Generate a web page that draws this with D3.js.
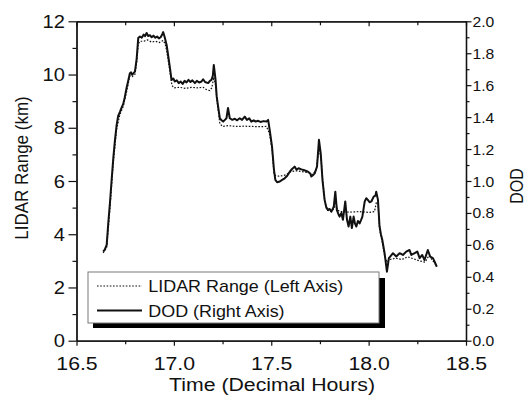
<!DOCTYPE html>
<html>
<head>
<meta charset="utf-8">
<script src="https://cdn.jsdelivr.net/npm/d3@7"></script>
<style>
  html, body { margin: 0; padding: 0; background: #fff; }
  svg { display: block; font-family: "Liberation Sans", Arial, sans-serif; }
</style>
</head>
<body>
<svg id="chart" width="527" height="395"></svg>
<script>
// Dust optical depth (right axis), decimal hours
const dodTime = [
  16.637, 16.645, 16.655, 16.663, 16.672, 16.680, 16.689, 16.697, 16.706, 16.714,
  16.723, 16.731, 16.740, 16.748, 16.757, 16.765, 16.774, 16.780, 16.786, 16.793,
  16.800, 16.809, 16.817, 16.826, 16.835, 16.845, 16.852, 16.860, 16.868, 16.877,
  16.886, 16.895, 16.905, 16.914, 16.923, 16.932, 16.940, 16.945, 16.953, 16.963,
  16.972, 16.980, 16.988, 16.997, 17.005, 17.015, 17.025, 17.035, 17.045, 17.055,
  17.065, 17.075, 17.085, 17.095, 17.108, 17.118, 17.130, 17.142, 17.150, 17.160,
  17.176, 17.185, 17.193, 17.200, 17.205, 17.210, 17.214, 17.220, 17.227, 17.236,
  17.245, 17.253, 17.262, 17.270, 17.278, 17.287, 17.300, 17.313, 17.325, 17.338,
  17.350, 17.364, 17.375, 17.387, 17.398, 17.410, 17.420, 17.432, 17.445, 17.460,
  17.475, 17.484, 17.492, 17.504, 17.514, 17.521, 17.530, 17.544, 17.556, 17.569,
  17.582, 17.595, 17.607, 17.620, 17.630, 17.640, 17.655, 17.670, 17.689, 17.700,
  17.706, 17.715, 17.723, 17.735, 17.745, 17.754, 17.763, 17.774, 17.783, 17.791,
  17.800, 17.809, 17.821, 17.829, 17.837, 17.845, 17.851, 17.860, 17.868, 17.880,
  17.889, 17.897, 17.906, 17.914, 17.923, 17.930, 17.937, 17.945, 17.954, 17.962,
  17.968, 17.975, 17.980, 17.988, 17.996, 18.005, 18.014, 18.026, 18.035, 18.039,
  18.048, 18.056, 18.063, 18.070, 18.082, 18.094, 18.104, 18.115, 18.125, 18.142,
  18.159, 18.176, 18.193, 18.210, 18.219, 18.236, 18.250, 18.262, 18.275, 18.287,
  18.304, 18.316, 18.330, 18.339, 18.350
];
const dodValue = [
  0.558, 0.570, 0.600, 0.733, 0.867, 1.000, 1.143, 1.250, 1.350, 1.408,
  1.433, 1.458, 1.483, 1.525, 1.582, 1.625, 1.675, 1.680, 1.665, 1.675,
  1.685, 1.767, 1.895, 1.905, 1.897, 1.917, 1.907, 1.927, 1.908, 1.913,
  1.900, 1.910, 1.897, 1.905, 1.893, 1.900, 1.917, 1.932, 1.900, 1.850,
  1.775, 1.707, 1.633, 1.642, 1.623, 1.630, 1.613, 1.623, 1.608, 1.627,
  1.617, 1.633, 1.620, 1.630, 1.613, 1.627, 1.617, 1.623, 1.637, 1.620,
  1.613, 1.627, 1.633, 1.658, 1.727, 1.675, 1.633, 1.528, 1.467, 1.393,
  1.380, 1.372, 1.383, 1.393, 1.457, 1.393, 1.383, 1.390, 1.380, 1.393,
  1.383, 1.403, 1.383, 1.392, 1.372, 1.380, 1.372, 1.377, 1.370, 1.375,
  1.372, 1.383, 1.320, 1.215, 1.070, 1.007, 0.992, 0.997, 1.007, 1.017,
  1.033, 1.058, 1.075, 1.090, 1.070, 1.080, 1.073, 1.067, 1.058, 1.047,
  1.028, 1.037, 1.048, 1.090, 1.258, 1.173, 1.007, 0.882, 0.833, 0.818,
  0.825, 0.808, 0.840, 0.933, 0.818, 0.792, 0.777, 0.800, 0.757, 0.872,
  0.757, 0.715, 0.777, 0.705, 0.777, 0.733, 0.715, 0.750, 0.735, 0.758,
  0.777, 0.833, 0.872, 0.892, 0.882, 0.867, 0.872, 0.902, 0.908, 0.933,
  0.882, 0.717, 0.667, 0.632, 0.548, 0.432, 0.517, 0.533, 0.548, 0.527,
  0.548, 0.537, 0.558, 0.568, 0.537, 0.548, 0.558, 0.517, 0.537, 0.505,
  0.568, 0.527, 0.517, 0.495, 0.463
];

// LIDAR range in km (left axis)
const rangeTime = [
  16.637, 16.655, 16.672, 16.689, 16.706, 16.723, 16.740, 16.757, 16.774, 16.786,
  16.800, 16.809, 16.817, 16.826, 16.845, 16.865, 16.885, 16.905, 16.925, 16.945,
  16.955, 16.963, 16.980, 16.990, 17.000, 17.030, 17.060, 17.090, 17.120, 17.150,
  17.170, 17.185, 17.195, 17.205, 17.214, 17.222, 17.236, 17.250, 17.280, 17.320,
  17.360, 17.400, 17.440, 17.475, 17.490, 17.504, 17.514, 17.522, 17.540, 17.560,
  17.580, 17.600, 17.630, 17.660, 17.690, 17.710, 17.730, 17.745, 17.755, 17.765,
  17.775, 17.790, 17.810, 17.825, 17.830, 17.840, 17.860, 17.900, 17.950, 18.000,
  18.030, 18.040, 18.048, 18.056, 18.070, 18.082, 18.094, 18.110, 18.140, 18.170,
  18.200, 18.230, 18.260, 18.290, 18.310, 18.330, 18.350
];
const rangeValue = [
  3.30, 3.50, 5.00, 6.70, 7.95, 8.50, 8.80, 9.35, 9.95, 9.92,
  10.00, 10.45, 11.15, 11.25, 11.25, 11.30, 11.22, 11.25, 11.20, 11.28,
  11.15, 10.90, 10.10, 9.60, 9.50, 9.52, 9.48, 9.52, 9.50, 9.52,
  9.42, 9.40, 9.50, 9.90, 9.60, 9.00, 8.15, 8.05, 8.08, 8.05,
  8.06, 8.05, 8.04, 8.05, 7.80, 7.20, 6.30, 6.20, 6.18, 6.20,
  6.25, 6.35, 6.38, 6.35, 6.32, 6.25, 6.40, 7.20, 6.90, 6.00,
  5.20, 4.90, 4.85, 5.00, 5.30, 4.90, 4.85, 4.83, 4.85, 4.82,
  4.85, 5.20, 5.15, 4.20, 3.70, 3.20, 2.95, 3.05, 3.10, 3.05,
  3.15, 3.08, 3.00, 2.95, 3.20, 3.00, 2.80
];

const xTicks = [16.5, 17.0, 17.5, 18.0, 18.5];
const xMinorTicks = [16.75, 17.25, 17.75, 18.25];
const leftTicks = [0, 2, 4, 6, 8, 10, 12];
const leftMinorTicks = [1, 3, 5, 7, 9, 11];
const rightTicks = [0, 0.2, 0.4, 0.6, 0.8, 1.0, 1.2, 1.4, 1.6, 1.8, 2.0];
const rightMinorTicks = [0.1, 0.3, 0.5, 0.7, 0.9, 1.1, 1.3, 1.5, 1.7, 1.9];
const seriesNames = ["LIDAR Range (Left Axis)", "DOD (Right Axis)"];
const axisTitles = { x: "Time (Decimal Hours)", left: "LIDAR Range (km)", right: "DOD" };

const SX = 1.12;          // horizontal widening applied to all glyphs
const INK = "#111";
const plot = { left: 76.5, right: 466, top: 21.3, bottom: 340.7 };

const svg = d3.select("#chart");

const x = d3.scaleLinear().domain([16.5, 18.5]).range([plot.left, plot.right]);
const yL = d3.scaleLinear().domain([0, 12]).range([plot.bottom, plot.top]);
const yR = d3.scaleLinear().domain([0, 2]).range([plot.bottom, plot.top]);

function styleAxis(g) {
  g.selectAll("path.domain").attr("stroke", INK).attr("stroke-width", 1.3);
  g.selectAll(".tick line").attr("stroke", INK).attr("stroke-width", 1.2);
  g.selectAll("text").attr("fill", INK).attr("font-family", null);
}

// ---- bottom axis
const gBottom = svg.append("g").attr("transform", `translate(0,${plot.bottom})`);
gBottom.call(d3.axisBottom(x).tickValues(xTicks).tickSize(5).tickSizeOuter(0).tickFormat(d3.format(".1f")));
gBottom.selectAll("text").attr("font-size", 19).attr("y", 29.3).attr("dy", null)
  .attr("transform", `scale(${SX},1)`);
styleAxis(gBottom);
const gBottomMinor = svg.append("g").attr("transform", `translate(0,${plot.bottom})`);
gBottomMinor.call(d3.axisBottom(x).tickValues(xMinorTicks).tickSize(3.5).tickSizeOuter(0).tickFormat(""));
styleAxis(gBottomMinor);

// ---- top axis (inward ticks, no labels)
const gTop = svg.append("g").attr("transform", `translate(0,${plot.top})`);
gTop.call(d3.axisTop(x).tickValues(xTicks).tickSize(-5).tickSizeOuter(0).tickFormat(""));
styleAxis(gTop);
const gTopMinor = svg.append("g").attr("transform", `translate(0,${plot.top})`);
gTopMinor.call(d3.axisTop(x).tickValues(xMinorTicks).tickSize(-4).tickSizeOuter(0).tickFormat(""));
styleAxis(gTopMinor);

// ---- left axis
const gLeft = svg.append("g").attr("transform", `translate(${plot.left},0)`);
gLeft.call(d3.axisLeft(yL).tickValues(leftTicks).tickSize(8).tickSizeOuter(0).tickFormat(d3.format("d")));
gLeft.selectAll("text").attr("font-size", 18).attr("x", -11.5 / SX).attr("dy", "0.34em")
  .attr("transform", `scale(${SX},1)`);
styleAxis(gLeft);
const gLeftMinor = svg.append("g").attr("transform", `translate(${plot.left},0)`);
gLeftMinor.call(d3.axisLeft(yL).tickValues(leftMinorTicks).tickSize(4).tickSizeOuter(0).tickFormat(""));
styleAxis(gLeftMinor);

// ---- right axis
const gRight = svg.append("g").attr("transform", `translate(${plot.right},0)`);
gRight.call(d3.axisRight(yR).tickValues(rightTicks).tickSize(5.5).tickSizeOuter(0).tickFormat(d3.format(".1f")));
gRight.selectAll("text").attr("font-size", 14).attr("x", 6.5 / SX).attr("dy", "0.36em")
  .attr("transform", `scale(${SX},1)`);
styleAxis(gRight);
const gRightMinor = svg.append("g").attr("transform", `translate(${plot.right},0)`);
gRightMinor.call(d3.axisRight(yR).tickValues(rightMinorTicks).tickSize(3.5).tickSizeOuter(0).tickFormat(""));
styleAxis(gRightMinor);

// ---- axis titles
svg.append("text")
  .attr("transform", `translate(272,391) scale(${SX},1)`)
  .attr("text-anchor", "middle").attr("font-size", 19).attr("fill", INK)
  .text(axisTitles.x);
svg.append("text")
  .attr("transform", `translate(28,168) scale(${SX},1) rotate(-90)`)
  .attr("text-anchor", "middle").attr("font-size", 17).attr("fill", INK)
  .text(axisTitles.left);
svg.append("text")
  .attr("transform", `translate(523,186) scale(${SX},1) rotate(-90)`)
  .attr("text-anchor", "middle").attr("font-size", 16).attr("fill", INK)
  .text(axisTitles.right);

// ---- series
const rangeLine = d3.line().x((d, i) => x(rangeTime[i])).y(d => yL(d));
const dodLine = d3.line().x((d, i) => x(dodTime[i])).y(d => yR(d));

svg.append("path")
  .datum(rangeValue)
  .attr("d", rangeLine)
  .attr("fill", "none").attr("stroke", INK).attr("stroke-width", 1.2)
  .attr("stroke-dasharray", "1.6,1.6");

svg.append("path")
  .datum(dodValue)
  .attr("d", dodLine)
  .attr("fill", "none").attr("stroke", INK).attr("stroke-width", 2)
  .attr("stroke-linejoin", "round");

// ---- legend with drop shadow
const legend = svg.append("g");
legend.append("rect").attr("x", 93).attr("y", 278).attr("width", 292).attr("height", 50).attr("fill", "#000");
legend.append("rect").attr("x", 88).attr("y", 272).attr("width", 291).attr("height", 51)
  .attr("fill", "#fff").attr("stroke", "#7a7a7a").attr("stroke-width", 1);

const rows = [
  { name: seriesNames[0], y: 286, dash: "1.6,1.6", w: 1.2 },
  { name: seriesNames[1], y: 310.5, dash: null, w: 1.8 }
];
rows.forEach(r => {
  legend.append("line").attr("x1", 97).attr("x2", 142).attr("y1", r.y).attr("y2", r.y)
    .attr("stroke", INK).attr("stroke-width", r.w).attr("stroke-dasharray", r.dash);
  legend.append("text")
    .attr("transform", `translate(148.3,${r.y + 6.2}) scale(${SX},1)`)
    .attr("font-size", 16).attr("fill", INK)
    .text(r.name);
});
</script>
</body>
</html>
